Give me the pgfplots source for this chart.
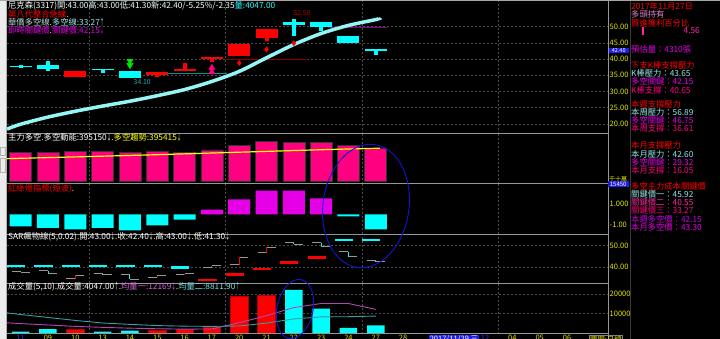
\documentclass[border=0pt]{standalone}
\usepackage{pgfplots}
\pgfplotsset{compat=1.18}
\usepackage{fontspec}
\setmainfont{Noto Sans CJK TC}
\definecolor{cy}{RGB}{0,255,255}
\definecolor{rd}{RGB}{255,0,0}
\definecolor{pk}{RGB}{255,0,128}
\definecolor{mg}{RGB}{230,0,230}
\definecolor{yl}{RGB}{255,255,0}
\definecolor{ayl}{RGB}{230,230,0}
\definecolor{gridc}{RGB}{75,75,75}
\definecolor{framec}{RGB}{150,150,150}
\definecolor{lcy}{RGB}{150,230,230}
\definecolor{tw}{RGB}{235,255,255}
\definecolor{lg}{RGB}{190,215,215}
\definecolor{tealL}{RGB}{0,150,150}
\definecolor{dkred}{RGB}{140,0,0}
\definecolor{purp}{RGB}{140,0,140}
\definecolor{mac}{RGB}{150,245,245}
\definecolor{vpurp}{RGB}{180,70,180}
\definecolor{vteal}{RGB}{50,160,160}
\definecolor{grn}{RGB}{0,230,0}
\definecolor{blu}{RGB}{50,50,255}
\definecolor{boxb}{RGB}{30,30,230}
\definecolor{lbl}{RGB}{40,170,170}
\definecolor{pk2}{RGB}{255,40,160}
\definecolor{lpk}{RGB}{220,130,200}
\definecolor{vio}{RGB}{200,0,230}
\definecolor{annot}{RGB}{20,20,210}
\definecolor{stepc}{RGB}{150,150,150}
\definecolor{tpurp}{RGB}{215,100,215}
\definecolor{tteal}{RGB}{120,225,225}

\newcommand{\tf}{\fontsize{8.3}{8.3}\selectfont}
\newcommand{\tkf}{\fontsize{7.5}{7.5}\selectfont}
\newcommand{\up}{\scalebox{0.55}[1]{↑}}
\newcommand{\dn}{\scalebox{0.55}[1]{↓}}
\newcommand{\ttl}[2]{\node[anchor=west, inner sep=0pt, font=\tf] at (8pt,-#1pt) {#2};}
\newcommand{\info}[3]{\node[anchor=west, inner sep=0pt, font=\tf, text=#2] at (631pt,-#1pt) {#3};}

\pgfplotsset{
 panel/.style={scale only axis, width=601pt, xmin=-0.5, xmax=21.5,
   axis line style={draw=none}, major tick length=0pt,
   scaled y ticks=false, scaled x ticks=false,
   xtick={2.5,7.5,12.5,17.5}, xticklabels={}, xmajorgrids=true, ymajorgrids=true,
   grid style={gridc, dash pattern=on 2pt off 2pt, line width=0.7pt},
   yticklabel pos=right,
   yticklabel style={font=\tkf, text=ayl, anchor=west, inner sep=0pt, xshift=1.5pt},
   unbounded coords=jump, anchor=north west},
}

\begin{document}
\begin{tikzpicture}
\useasboundingbox (0,0) rectangle (720pt,-339pt);
\clip (0,0) rectangle (720pt,-339pt);
\fill[black] (0,0) rectangle (720pt,-339pt);

% ---------------- Panel 1: candles ----------------
\begin{axis}[panel, at={(7pt,-1pt)}, height=133pt, ymin=16.88, ymax=57.93,
  ytick={20,25,30,35,40,45,50}, yticklabels={20.00,25.00,30.00,35.00,40.00,45.00,50.00}]
\addplot[tealL, line width=1pt] coordinates {(5.35,35.4) (7.55,35.4)};
\addplot[dkred, line width=1pt] coordinates {(7.5,39.9) (10.5,39.9)};
\addplot[purp, line width=1pt] coordinates {(11.25,49.8) (13.4,49.8)};
\addplot[mac, line width=3.5pt, smooth] coordinates {(-0.5,18.4) (0,19.9) (1,22.1) (2,23.9) (3,25.5) (4,27.0) (5,28.7) (6,30.6) (7,33.1) (8,36.2) (9,40.4) (10,44.5) (11,47.9) (12,50.4) (13,52.2) (13.1,52.5)};
% wicks
\addplot[cy, line width=4pt] coordinates {(0,37.3)(0,38.2)(0,nan)(1,36.3)(1,39.5)(1,nan)(3,35.8)(3,36.9)(3,nan)(4,34.1)(4,36.3)(4,nan)(10,47.2)(10,52.5)(10,nan)(11,48.8)(11,51.5)(11,nan)(12,44.9)(12,47.1)(12,nan)(13,41.3)(13,43.0)};
\addplot[rd, line width=4pt] coordinates {(2,34.4)(2,36.2)(2,nan)(5,34.6)(5,36.0)(5,nan)(6,36.4)(6,38.9)(6,nan)(7,39.2)(7,40.7)(7,nan)(8,41.0)(8,44.7)(8,nan)(9,45.5)(9,49.2)};
% bodies
\addplot[cy, line width=22pt] coordinates {(0,37.5)(0,37.9)(0,nan)(1,37.0)(1,38.2)(1,nan)(3,36.5)(3,36.9)(3,nan)(4,34.3)(4,36.3)(4,nan)(10,50.6)(10,51.5)(10,nan)(11,49.8)(11,51.5)(11,nan)(12,44.9)(12,47.1)(12,nan)(13,42.4)(13,43.0)};
\addplot[rd, line width=22pt] coordinates {(2,34.6)(2,36.2)(2,nan)(5,35.1)(5,36.0)(5,nan)(6,36.4)(6,36.8)(6,nan)(7,40.0)(7,40.7)(7,nan)(8,41.0)(8,44.7)(8,nan)(9,46.6)(9,49.2)};
\addplot[only marks, mark=diamond*, mark size=2.6pt, rd] coordinates {(8,38.8) (9,43.0) (10,44.9)};
\addplot[only marks, mark=triangle*, mark size=3.6pt, grn, mark options={rotate=180}] coordinates {(4,39.4) (4,38.1)};
\addplot[only marks, mark=triangle*, mark size=3.6pt, pk] coordinates {(7,37.3) (7,36.0)};
\node[font=\fontsize{6.8}{6.8}\selectfont, text=lbl, inner sep=0pt] at (axis cs:4.45,33.0) {34.10};
\node[font=\fontsize{6.8}{6.8}\selectfont, text=rd!75!black, inner sep=0pt] at (axis cs:10.3,54.1) {52.50};
\end{axis}

% ---------------- Panel 2 ----------------
\begin{axis}[panel, at={(7pt,-134pt)}, height=50pt, ymin=-36, ymax=568, ytick=\empty]
\addplot[ybar, bar width=22pt, bar shift=0pt, fill=pk, draw=gray!40!black, line width=0.6pt] coordinates {(0,350)(1,350)(2,354)(3,363)(4,350)(5,363)(6,350)(7,375)(8,435)(9,483)(10,463)(11,463)(12,431)(13,395.15)};
\addplot[yl, line width=1.2pt] coordinates {(-0.5,270)(1,283)(3,300)(5,318)(7,338)(9,358)(11,378)(13,395.4)(13.15,397)};
\end{axis}

% ---------------- Panel 3 ----------------
\begin{axis}[panel, at={(7pt,-184pt)}, height=50pt, ymin=-1.90, ymax=2.93, ymajorgrids=false,
  ytick={-1,1}, yticklabels={-1.00,1.000}]
\addplot[ybar, bar width=22pt, bar shift=0pt, fill=cy, draw=none] coordinates {(0,-1.16)(1,-1.32)(2,-1.45)(3,-1.32)(4,-1.55)(5,-1.06)(6,-0.51)(12,-0.19)(13,-1.45)};
\addplot[ybar, bar width=22pt, bar shift=0pt, fill=mg, draw=none] coordinates {(7,0.45)(8,1.45)(9,2.3)(10,2.3)(11,1.55)};
\end{axis}

% ---------------- Panel 4: SAR ----------------
\begin{axis}[panel, at={(7pt,-234pt)}, height=49pt, ymin=32.49, ymax=55.49,
  ytick={40,50}, yticklabel={\pgfmathprintnumber[fixed,fixed zerofill,precision=2,assume math mode=true]{\tick}}]
\addplot[stepc, line width=0.9pt] coordinates {
(-0.33,37.9)(0,37.9)(0,nan)(0,37.5)(0.33,37.5)(0.33,nan)
(0.67,38.2)(1,38.2)(1,nan)(1,37.0)(1.33,37.0)(1.33,nan)
(1.67,34.6)(2,34.6)(2,nan)(2,36.2)(2.33,36.2)(2.33,nan)
(2.67,36.9)(3,36.9)(3,nan)(3,36.5)(3.33,36.5)(3.33,nan)
(3.67,36.3)(4,36.3)(4,nan)(4,34.3)(4.33,34.3)(4.33,nan)
(4.67,35.1)(5,35.1)(5,nan)(5,36.0)(5.33,36.0)(5.33,nan)
(5.67,36.4)(6,36.4)(6,nan)(6,36.8)(6.33,36.8)(6.33,nan)
(6.67,40.0)(7,40.0)(7,nan)(7,40.7)(7.33,40.7)(7.33,nan)
(7.67,41.0)(8,41.0)(8,nan)(8,44.7)(8.33,44.7)(8.33,nan)
(8.67,46.6)(9,46.6)(9,nan)(9,49.2)(9.33,49.2)(9.33,nan)
(9.67,51.5)(10,51.5)(10,nan)(10,50.6)(10.33,50.6)(10.33,nan)
(10.67,51.5)(11,51.5)(11,nan)(11,49.8)(11.33,49.8)(11.33,nan)
(11.67,47.1)(12,47.1)(12,nan)(12,44.9)(12.33,44.9)(12.33,nan)
(12.67,43.0)(13,43.0)(13,nan)(13,42.4)(13.33,42.4)};
\addplot[cy, line width=0.9pt] coordinates {(0,37.9)(0,37.5)(0,nan)(1,38.2)(1,37.0)(1,nan)(3,36.9)(3,36.5)(3,nan)(4,36.3)(4,34.3)(4,nan)(10,51.5)(10,50.6)(10,nan)(11,51.5)(11,49.8)(11,nan)(12,47.1)(12,44.9)(12,nan)(13,43.0)(13,42.4)};
\addplot[rd, line width=0.9pt] coordinates {(2,34.6)(2,36.2)(2,nan)(5,35.1)(5,36.0)(5,nan)(6,36.4)(6,36.8)(6,nan)(7,40.0)(7,40.7)(7,nan)(8,41.0)(8,44.7)(8,nan)(9,46.6)(9,49.2)};
\addplot[cy, line width=2.5pt] coordinates {(-0.5,40.5)(0.17,40.5)(0.17,nan)(0.5,40.5)(1.17,40.5)(1.17,nan)(1.5,40.5)(2.17,40.5)(2.17,nan)(2.5,40.5)(3.17,40.5)(3.17,nan)(3.5,40.5)(4.17,40.5)(4.17,nan)(4.5,40.5)(5.17,40.5)(5.17,nan)(5.5,39.7)(6.17,39.7)(6.17,nan)(11.5,52.7)(12.17,52.7)(12.17,nan)(12.5,52.7)(13.17,52.7)};
\addplot[rd, line width=2.5pt] coordinates {(6.5,33.8)(7.17,33.8)(7.17,nan)(7.5,36.4)(8.17,36.4)(8.17,nan)(8.5,39.1)(9.17,39.1)(9.17,nan)(9.5,42.2)(10.17,42.2)(10.17,nan)(10.5,44.4)(11.17,44.4)};
\end{axis}

% ---------------- Panel 5: volume ----------------
\begin{axis}[panel, at={(7pt,-283pt)}, height=50.5pt, ymin=0, ymax=25500,
  ytick={10000,20000}, yticklabels={10000,20000},
  xtick={0,...,20}, xmajorgrids=false,
  xticklabels={\textcolor{blu}{11},09,10,13,14,15,16,17,20,21,22,23,24,27,28,{},{},\textcolor{blu}{12},04,05,06},
  xticklabel style={font=\tkf, text=ayl, anchor=north, inner sep=0pt, yshift=-1.5pt},
  extra x ticks={2.5,7.5,12.5,17.5}, extra x tick labels={}, extra x tick style={grid=major}]
\addplot[ybar, bar width=17.5pt, bar shift=0pt, fill=rd, draw=rd!70!black, line width=0.6pt] coordinates {(2,2000)(5,1500)(6,2150)(7,3000)(8,19000)(9,19300)};
\addplot[ybar, bar width=17.5pt, bar shift=0pt, fill=cy, draw=none] coordinates {(0,1000)(1,2150)(3,1000)(4,1500)(10,22000)(11,12500)(12,2900)(13,4047)};
\addplot[vpurp, line width=0.9pt] coordinates {(-0.5,5400)(0,5000)(1,4300)(2,3600)(3,3100)(4,2700)(5,2400)(6,2200)(7,2300)(8,5430)(9,8990)(10,13090)(11,15160)(12,15140)(13,12169)};
\addplot[vteal, line width=0.9pt] coordinates {(-0.5,10400)(0,9600)(1,8100)(2,6600)(3,5300)(4,4600)(5,4000)(6,3700)(7,3600)(8,3800)(9,5260)(10,7360)(11,8395)(12,8485)(13,8812)};
\end{axis}

% ---------------- frame ----------------
\fill[gray!15] (0,0) rectangle (6.5pt,-339pt);
\draw[gray!60, line width=0.8pt] (6.5pt,0) -- (6.5pt,-339pt);
\draw[gray!60, line width=0.6pt] (0.8pt,-147pt) rectangle (5.2pt,-155pt);
\draw[gray!60, line width=0.6pt] (0.8pt,-158pt) rectangle (5.2pt,-172pt);
\draw[gray!70, line width=1pt] (0,-0.5pt) -- (720pt,-0.5pt);
\foreach \yy in {134,184,234,283,333.5} {\draw[framec, line width=1pt] (7pt,-\yy pt) -- (608pt,-\yy pt);}
\draw[framec, line width=1pt] (608pt,-1pt) -- (608pt,-339pt);
\draw[gray!45!black, line width=1pt] (630pt,-1pt) -- (630pt,-339pt);

% current price box
\fill[boxb] (608.5pt,-48pt) rectangle (629pt,-53pt);
\node[text=white, inner sep=0pt, font=\fontsize{5.5}{5.5}\selectfont] at (618.7pt,-50.5pt) {42.40};
\node[text=ayl, inner sep=0pt, font=\fontsize{6}{6}\selectfont] at (618pt,-179pt) {千十萬};
\fill[boxb] (607.5pt,-181.5pt) rectangle (629pt,-187.5pt);
\node[text=white, inner sep=0pt, font=\fontsize{6}{6}\selectfont] at (618.2pt,-184.5pt) {15450};

% x axis boxes
\node[anchor=north west, fill=boxb, text=white, inner sep=0.6pt, font=\tkf, minimum width=43pt] at (429pt,-335pt) {2017/11/29 三};
\node[anchor=north west, draw=gray, text=ayl, inner sep=0.6pt, font=\tkf] at (589pt,-335pt) {週期:日線};

% ---------------- titles ----------------
\ttl{5.7}{\textcolor{white}{尼克森(3317)}\textcolor{tw}{開:43.00高:43.00低:41.30新:42.40/-5.25\%/-2.35}\textcolor{cy!85!white}{量:4047.00}}
\ttl{14}{\textcolor{rd}{第八代整合急線}\textcolor{yl}{.}}
\ttl{22.5}{\textcolor{lg}{華僑多空線}\textcolor{yl}{.}\textcolor{lcy}{多空線:33.27\up}}
\ttl{30.5}{\textcolor{mg}{即時關鍵價}\textcolor{yl}{.}\textcolor{mg}{關鍵價:42.15\dn}}
\ttl{137.3}{\textcolor{white}{主力多空}\textcolor{yl}{.}\textcolor{white}{多空動能:395150\dn}\textcolor{yl}{.多空趨勢:395415\dn}}
\ttl{189}{\textcolor{rd}{紅綠燈指標(短波)}\textcolor{yl}{.}}
\ttl{237}{\textcolor{white}{SAR飆物線(5,0.02)}\textcolor{yl}{.}\textcolor{white}{開:43.00\dn}\textcolor{yl}{.}\textcolor{white}{收:42.40\dn}\textcolor{yl}{.}\textcolor{white}{高:43.00\dn}\textcolor{yl}{.}\textcolor{white}{低:41.30\dn}}
\ttl{286.3}{\textcolor{white}{成交量(5,10)}\textcolor{yl}{.}\textcolor{white}{成交量:4047.00\up}\textcolor{yl}{.}\textcolor{tpurp}{均量一:12169\dn}\textcolor{yl}{.}\textcolor{tteal}{均量二:8811.90\up}}

% ---------------- info panel ----------------
\info{6}{rd}{2017年11月27日}
\info{14.5}{lpk}{多頭持有}
\info{23}{rd}{買進獲利百分比}
\fill[pk2] (641.5pt,-27pt) rectangle (643.5pt,-35pt);
\node[anchor=east, inner sep=0pt, font=\tf, text=pk2] at (700pt,-31pt) {4.56};
\info{49}{mg}{預估量：4310張}
\info{65}{rd}{下支K棒支撐壓力}
\info{73}{lcy}{K棒壓力：43.65}
\info{81.5}{mg}{多空關鍵：42.15}
\info{90}{pk}{K棒支撐：40.65}
\info{104.5}{rd}{本週支撐壓力}
\info{112.5}{lcy}{本周壓力：56.89}
\info{120.5}{mg}{多空關鍵：46.75}
\info{128.5}{pk}{本周支撐：36.61}
\info{145}{rd}{本月支撐壓力}
\info{154}{lcy}{本月壓力：42.60}
\info{162}{mg}{多空關鍵：29.32}
\info{170}{pk}{本月支撐：16.05}
\info{186}{rd}{多空主力成本關鍵價}
\info{194.5}{lcy}{關鍵價一：45.92}
\info{202.5}{pk2}{關鍵價二：40.55}
\info{210.5}{pk}{關鍵價三：33.27}
\info{219}{vio}{本週多空價：42.15}
\info{227}{mg}{本月多空價：43.30}

% ---------------- hand-drawn annotations ----------------
\draw[annot, line width=0.9pt, rotate around={-8:(366pt,-206pt)}] (366pt,-206pt) ellipse [x radius=43pt, y radius=62pt];
\draw[annot, line width=0.9pt, rotate around={-12:(295pt,-309pt)}] (295pt,-309pt) ellipse [x radius=18pt, y radius=30pt];
\end{tikzpicture}
\end{document}
